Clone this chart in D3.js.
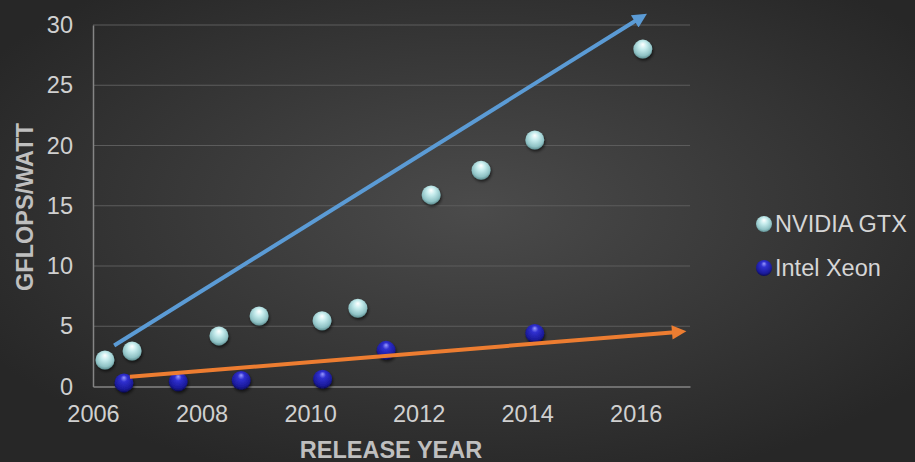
<!DOCTYPE html>
<html lang="en">
<head>
    <meta charset="utf-8">
    <title>gflops per watt</title>
    <style>
        body { margin: 0; background: #2b2b2b; }
        svg { display: block; }
        .tick text { fill: #d0d0d0; font-size: 23.5px; font-family: "Liberation Sans", Arial, sans-serif; }
        .title { fill: #bfbfbf; font-size: 23.5px; font-weight: bold; font-family: "Liberation Sans", Arial, sans-serif; }
        .legend text { fill: #d6d6d6; font-size: 23.5px; font-family: "Liberation Sans", Arial, sans-serif; }
    </style>
</head>
<body>
<div id="chart"></div>
<script src="https://cdn.jsdelivr.net/npm/d3@7"></script>
<script>
    // values
    var seriesNames = ['NVIDIA GTX', 'Intel Xeon'];
    var gtxYears = [2006.22, 2006.72, 2008.32, 2009.06, 2010.22, 2010.88, 2012.23, 2013.15, 2014.14, 2016.13];
    var gtxValues = [2.2, 2.95, 4.2, 5.85, 5.45, 6.5, 15.9, 17.95, 20.45, 28.0];
    var xeonYears = [2006.57, 2007.57, 2008.73, 2010.23, 2011.4, 2014.14];
    var xeonValues = [0.3, 0.4, 0.5, 0.6, 3.0, 4.4];
    // trend arrows: [startYear, startValue, endYear, endValue]
    var gtxTrend = [2006.39, 3.4, 2016.23, 31.0];
    var xeonTrend = [2006.68, 0.8, 2016.96, 4.6];
    var xTicks = [2006, 2008, 2010, 2012, 2014, 2016];
    var yTicks = [0, 5, 10, 15, 20, 25, 30];

    var width = 915, height = 462;
    var plotLeft = 93, plotRight = 690, plotTop = 25, plotBottom = 386.5;

    var svg = d3.select('#chart').append('svg')
        .attr('width', width)
        .attr('height', height);

    var defs = svg.append('defs');

    var bg = defs.append('radialGradient').attr('id', 'bg')
        .attr('cx', '52%').attr('cy', '45%').attr('r', '62%');
    bg.append('stop').attr('offset', '0%').attr('stop-color', '#4b4b4b');
    bg.append('stop').attr('offset', '100%').attr('stop-color', '#272727');

    var cyanBall = defs.append('radialGradient').attr('id', 'cyanBall')
        .attr('cx', '50%').attr('cy', '40%').attr('r', '60%').attr('fx', '50%').attr('fy', '25%');
    cyanBall.append('stop').attr('offset', '0%').attr('stop-color', '#ffffff');
    cyanBall.append('stop').attr('offset', '35%').attr('stop-color', '#c6eced');
    cyanBall.append('stop').attr('offset', '80%').attr('stop-color', '#8fc2c5');
    cyanBall.append('stop').attr('offset', '100%').attr('stop-color', '#5f8f92');

    var blueBall = defs.append('radialGradient').attr('id', 'blueBall')
        .attr('cx', '50%').attr('cy', '40%').attr('r', '60%').attr('fx', '50%').attr('fy', '22%');
    blueBall.append('stop').attr('offset', '0%').attr('stop-color', '#9a9aff');
    blueBall.append('stop').attr('offset', '30%').attr('stop-color', '#3030d0');
    blueBall.append('stop').attr('offset', '80%').attr('stop-color', '#1a1a9a');
    blueBall.append('stop').attr('offset', '100%').attr('stop-color', '#0c0c55');

    var shadow = defs.append('filter').attr('id', 'shadow')
        .attr('x', '-50%').attr('y', '-50%').attr('width', '200%').attr('height', '200%');
    shadow.append('feDropShadow').attr('dx', 1).attr('dy', 2).attr('stdDeviation', 1.5)
        .attr('flood-color', '#000').attr('flood-opacity', 0.6);

    function arrowMarker(id, color) {
        defs.append('marker').attr('id', id)
            .attr('viewBox', '0 0 10 10').attr('refX', 2).attr('refY', 5)
            .attr('markerWidth', 4.2).attr('markerHeight', 3.6)
            .attr('orient', 'auto').attr('markerUnits', 'strokeWidth')
            .append('path').attr('d', 'M0,0L10,5L0,10Z').attr('fill', color);
    }
    arrowMarker('arrowBlue', '#5b9bd5');
    arrowMarker('arrowOrange', '#ed7d31');

    svg.append('rect').attr('width', width).attr('height', height).attr('fill', 'url(#bg)');

    var x = d3.scaleLinear().domain([2006, 2017]).range([plotLeft, plotRight]);
    var y = d3.scaleLinear().domain([0, 30]).range([plotBottom, plotTop]);

    // gridlines
    svg.append('g').selectAll('line').data(yTicks.slice(1)).enter()
        .append('line')
        .attr('x1', plotLeft).attr('x2', plotRight)
        .attr('y1', d => y(d)).attr('y2', d => y(d))
        .attr('stroke', '#5c5c5c').attr('stroke-width', 1.2);

    var xAxis = d3.axisBottom(x).tickValues(xTicks).tickFormat(d3.format('d')).tickSize(0).tickPadding(19);
    var yAxis = d3.axisLeft(y).tickValues(yTicks).tickSize(0).tickPadding(20);

    svg.append('g').attr('transform', `translate(0,${plotBottom})`).call(xAxis)
        .call(g => g.select('.domain').attr('stroke', '#858585').attr('stroke-width', 1.5))
        .selectAll('text').attr('dy', '0.71em');

    svg.append('g').attr('transform', `translate(${plotLeft},0)`).call(yAxis)
        .call(g => g.select('.domain').attr('stroke', '#858585').attr('stroke-width', 1.5));

    svg.append('text').attr('class', 'title')
        .attr('x', 391).attr('y', 458).attr('text-anchor', 'middle')
        .text('RELEASE YEAR');
    svg.append('text').attr('class', 'title')
        .attr('transform', 'translate(33,207) rotate(-90)').attr('text-anchor', 'middle')
        .text('GFLOPS/WATT');

    // trend arrows
    var trends = [
        { t: gtxTrend, color: '#5b9bd5', marker: 'arrowBlue' },
        { t: xeonTrend, color: '#ed7d31', marker: 'arrowOrange' }
    ];
    var xeon = xeonYears.map((d, i) => ({ year: d, value: xeonValues[i] }));
    var gtx = gtxYears.map((d, i) => ({ year: d, value: gtxValues[i] }));

    function drawBalls(data, fill) {
        svg.append('g').selectAll('circle').data(data).enter()
            .append('circle')
            .attr('cx', d => x(d.year)).attr('cy', d => y(d.value))
            .attr('r', 9.5)
            .attr('fill', fill)
            .attr('filter', 'url(#shadow)');
    }

    drawBalls(gtx, 'url(#cyanBall)');
    drawBalls(xeon, 'url(#blueBall)');

    svg.append('g').selectAll('line').data(trends).enter()
        .append('line')
        .attr('x1', d => x(d.t[0])).attr('y1', d => y(d.t[1]))
        .attr('x2', d => x(d.t[2])).attr('y2', d => y(d.t[3]))
        .each(function (d) {
            // shorten so the arrow head tip lands on the end point
            var x1 = x(d.t[0]), y1 = y(d.t[1]), x2 = x(d.t[2]), y2 = y(d.t[3]);
            var len = Math.hypot(x2 - x1, y2 - y1), cut = 13;
            d3.select(this).attr('x2', x2 - (x2 - x1) * cut / len).attr('y2', y2 - (y2 - y1) * cut / len);
        })
        .attr('stroke', d => d.color).attr('stroke-width', 4)
        .attr('marker-end', d => `url(#${d.marker})`);

    // legend
    var legend = svg.append('g').attr('class', 'legend');
    var legendFills = ['url(#cyanBall)', 'url(#blueBall)'];
    var items = legend.selectAll('g').data(seriesNames).enter()
        .append('g')
        .attr('transform', (d, i) => `translate(764,${224 + i * 44})`);
    items.append('circle').attr('r', 8).attr('fill', (d, i) => legendFills[i]);
    items.append('text').attr('x', 11).attr('dy', '0.36em').text(d => d);
</script>
</body>
</html>
